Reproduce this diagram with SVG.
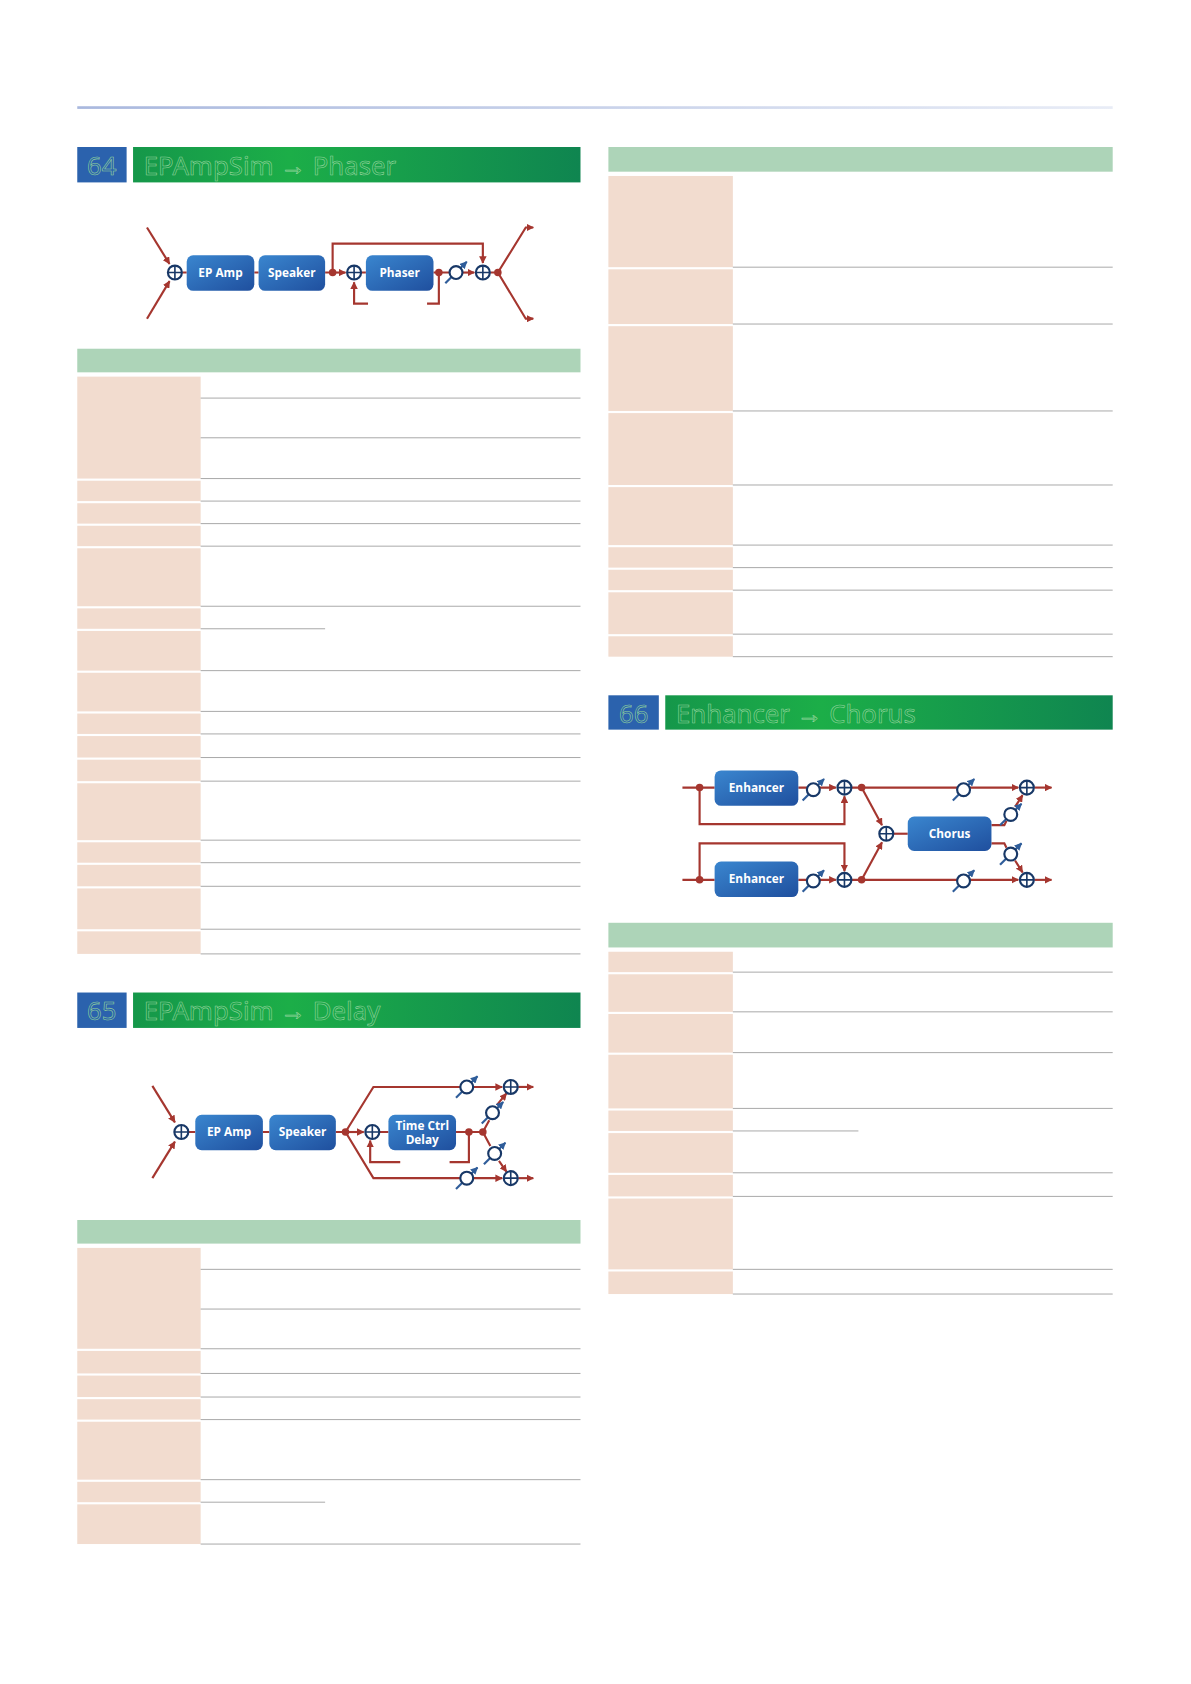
<svg xmlns="http://www.w3.org/2000/svg" width="1191" height="1684" viewBox="0 0 1191 1684">
<defs>
<linearGradient id="gb" x1="0" y1="0" x2="1" y2="1"><stop offset="0" stop-color="#3a86cf"/><stop offset="1" stop-color="#1f4f9e"/></linearGradient>
<linearGradient id="gg" x1="0" y1="0" x2="1" y2="0"><stop offset="0" stop-color="#15974a"/><stop offset="0.35" stop-color="#1cae48"/><stop offset="1" stop-color="#0f8550"/></linearGradient>
<linearGradient id="gl" x1="0" y1="0" x2="1" y2="0"><stop offset="0" stop-color="#a9b8de"/><stop offset="1" stop-color="#e8ecf6"/></linearGradient>
<marker id="ar" viewBox="0 0 10 10" refX="9" refY="5" markerWidth="7" markerHeight="7" markerUnits="userSpaceOnUse" orient="auto"><path d="M0,0L10,5L0,10z" fill="#a5362f"/></marker>
<marker id="ab" viewBox="0 0 10 10" refX="9" refY="5" markerWidth="7" markerHeight="7" markerUnits="userSpaceOnUse" orient="auto"><path d="M0,0L10,5L0,10z" fill="#2f5d9a"/></marker>
<symbol id="sum" overflow="visible"><circle r="6.5" fill="#fff" stroke="#183867" stroke-width="2"/><path d="M-6.5,0H6.5M0,-6.5V6.5" stroke="#183867" stroke-width="1.5"/></symbol>
<symbol id="knob" overflow="visible"><path d="M-10,10L10,-10" stroke="#2f5d9a" stroke-width="2" marker-end="url(#ab)"/><circle r="6" fill="#fff" stroke="#183867" stroke-width="2"/></symbol>
</defs>
<style>
.blk{fill:url(#gb)}
.bt{font-family:"Open Sans","Liberation Sans",sans-serif;font-weight:bold;font-size:11px;fill:#fff;text-anchor:middle}
.ln{stroke:#a5362f;stroke-width:2;fill:none}
.dot{fill:#a5362f}
.num{fill:#2b62ad}
.tt{font-family:"Noto Sans","Open Sans",sans-serif;font-size:24px;fill:none;stroke:#93d49c;stroke-width:0.55}
.hd{fill:#add4b8}
.pc{fill:#f2dccf}
.rl{stroke:#9a9a9a;stroke-width:0.8}
</style>
<g transform="scale(1.073)">
<rect x="72" y="99" width="965" height="2.5" fill="url(#gl)"/>
<g id="title64"><rect class="num" x="72" y="137" width="46" height="33"/><rect x="124" y="137" width="417" height="33" fill="url(#gg)"/><text class="tt" x="81" y="163">64</text><text class="tt" x="134" y="163">EPAmpSim → Phaser</text></g>
<g id="title65"><rect class="num" x="72" y="925" width="46" height="33"/><rect x="124" y="925" width="417" height="33" fill="url(#gg)"/><text class="tt" x="81" y="951">65</text><text class="tt" x="134" y="951">EPAmpSim → Delay</text></g>
<g id="title66"><rect class="num" x="567" y="648" width="47" height="32"/><rect x="620" y="648" width="417" height="32" fill="url(#gg)"/><text class="tt" x="577" y="674">66</text><text class="tt" x="630" y="674">Enhancer → Chorus</text></g>

<g id="connectors">
<path class="ln" d="M137,212L158,246" marker-end="url(#ar)"/><path class="ln" d="M137,297L158,262" marker-end="url(#ar)"/>
<path class="ln" d="M170,254H174M237,254H241M303,254H310"/><path class="ln" d="M310,254H322" marker-end="url(#ar)"/>
<path class="ln" d="M310,254V227H450V245" marker-end="url(#ar)"/>
<path class="ln" d="M337,254H341M404,254H419"/><path class="ln" d="M431,254H442" marker-end="url(#ar)"/>
<path class="ln" d="M409,254V283H398M343,283H330V263" marker-end="url(#ar)"/>
<path class="ln" d="M457,254H464L490,212H497" marker-end="url(#ar)"/><path class="ln" d="M464,254L490,297H497" marker-end="url(#ar)"/>
<circle class="dot" cx="310" cy="254" r="3.5"/><circle class="dot" cx="409" cy="254" r="3.5"/><circle class="dot" cx="464" cy="254" r="3.5"/>
<path class="ln" d="M142,1012L163,1046" marker-end="url(#ar)"/><path class="ln" d="M142,1098L163,1064" marker-end="url(#ar)"/>
<path class="ln" d="M176,1055H182M245,1055H251M313,1055H322"/><path class="ln" d="M322,1055H339" marker-end="url(#ar)"/>
<path class="ln" d="M322,1055L348,1013H429M441,1013H468" marker-end="url(#ar)"/>
<path class="ln" d="M322,1055L348,1098H429M441,1098H468" marker-end="url(#ar)"/>
<path class="ln" d="M354,1055H362M425,1055H450L456,1044M463,1030L472,1019" marker-end="url(#ar)"/>
<path class="ln" d="M450,1055L457,1068M465,1082L472,1092" marker-end="url(#ar)"/>
<path class="ln" d="M437,1055V1083H419M373,1083H345V1063" marker-end="url(#ar)"/>
<path class="ln" d="M483,1013H497" marker-end="url(#ar)"/><path class="ln" d="M483,1098H497" marker-end="url(#ar)"/>
<circle class="dot" cx="322" cy="1055" r="3.5"/><circle class="dot" cx="437" cy="1055" r="3.5"/><circle class="dot" cx="450" cy="1055" r="3.5"/>
<path class="ln" d="M636,734H666M744,734H752M764,734H779" marker-end="url(#ar)"/>
<path class="ln" d="M652,734V768H787V742" marker-end="url(#ar)"/>
<path class="ln" d="M636,820H666M744,820H752M764,820H779" marker-end="url(#ar)"/>
<path class="ln" d="M652,820V786H787V812" marker-end="url(#ar)"/>
<path class="ln" d="M794,734H892M904,734H949" marker-end="url(#ar)"/>
<path class="ln" d="M794,820H892M904,820H949" marker-end="url(#ar)"/>
<path class="ln" d="M803,734L822,769" marker-end="url(#ar)"/><path class="ln" d="M803,820L822,785" marker-end="url(#ar)"/>
<path class="ln" d="M833,777H846"/>
<path class="ln" d="M924,769H936L938,765M946,752L953,741" marker-end="url(#ar)"/>
<path class="ln" d="M924,786H936L938,790M946,802L953,813" marker-end="url(#ar)"/>
<path class="ln" d="M964,734H980" marker-end="url(#ar)"/><path class="ln" d="M964,820H980" marker-end="url(#ar)"/>
<circle class="dot" cx="652" cy="734" r="3.5"/><circle class="dot" cx="652" cy="820" r="3.5"/><circle class="dot" cx="803" cy="734" r="3.5"/><circle class="dot" cx="803" cy="820" r="3.5"/>
</g>

<g id="sums"><use href="#sum" x="163" y="254"/><use href="#sum" x="330" y="254"/><use href="#sum" x="450" y="254"/>
<use href="#sum" x="169" y="1055"/><use href="#sum" x="347" y="1055"/><use href="#sum" x="476" y="1013"/><use href="#sum" x="476" y="1098"/>
<use href="#sum" x="787" y="734"/><use href="#sum" x="787" y="820"/><use href="#sum" x="826" y="777"/><use href="#sum" x="957" y="734"/><use href="#sum" x="957" y="820"/></g>
<g id="levels"><use href="#knob" x="425" y="254"/><use href="#knob" x="435" y="1013"/><use href="#knob" x="435" y="1098"/><use href="#knob" x="459" y="1037"/><use href="#knob" x="461" y="1075"/>
<use href="#knob" x="758" y="736"/><use href="#knob" x="758" y="821"/><use href="#knob" x="898" y="736"/><use href="#knob" x="898" y="821"/><use href="#knob" x="942" y="759"/><use href="#knob" x="942" y="796"/></g>

<g id="epamp64"><rect class="blk" x="174" y="238" width="63" height="33" rx="6"/><text class="bt" x="205.5" y="258">EP Amp</text></g>
<g id="speaker64"><rect class="blk" x="241" y="238" width="62" height="33" rx="6"/><text class="bt" x="272" y="258">Speaker</text></g>
<g id="phaser64"><rect class="blk" x="341" y="238" width="63" height="33" rx="6"/><text class="bt" x="372.5" y="258">Phaser</text></g>
<g id="epamp65"><rect class="blk" x="182" y="1039" width="63" height="33" rx="6"/><text class="bt" x="213.5" y="1059">EP Amp</text></g>
<g id="speaker65"><rect class="blk" x="251" y="1039" width="62" height="33" rx="6"/><text class="bt" x="282" y="1059">Speaker</text></g>
<g id="delay65"><rect class="blk" x="362" y="1039" width="63" height="33" rx="6"/><text class="bt" x="393.5" y="1053">Time Ctrl</text><text class="bt" x="393.5" y="1066">Delay</text></g>
<g id="enh1"><rect class="blk" x="666" y="718" width="78" height="33" rx="6"/><text class="bt" x="705" y="738">Enhancer</text></g>
<g id="enh2"><rect class="blk" x="666" y="803" width="78" height="33" rx="6"/><text class="bt" x="705" y="823">Enhancer</text></g>
<g id="chorus"><rect class="blk" x="846" y="761" width="78" height="32" rx="6"/><text class="bt" x="885" y="781">Chorus</text></g>

<g id="table64">
<rect class="hd" x="72" y="325" width="469" height="22"/>
<rect class="pc" x="72" y="351" width="115" height="95"/><rect class="pc" x="72" y="448" width="115" height="19"/><rect class="pc" x="72" y="469" width="115" height="19"/><rect class="pc" x="72" y="490" width="115" height="19"/><rect class="pc" x="72" y="511" width="115" height="54"/><rect class="pc" x="72" y="567" width="115" height="19"/><rect class="pc" x="72" y="588" width="115" height="37"/><rect class="pc" x="72" y="627" width="115" height="36"/><rect class="pc" x="72" y="665" width="115" height="19"/><rect class="pc" x="72" y="686" width="115" height="20"/><rect class="pc" x="72" y="708" width="115" height="20"/><rect class="pc" x="72" y="730" width="115" height="53"/><rect class="pc" x="72" y="785" width="115" height="19"/><rect class="pc" x="72" y="806" width="115" height="20"/><rect class="pc" x="72" y="828" width="115" height="38"/><rect class="pc" x="72" y="868" width="115" height="21"/>
<path class="rl" d="M187,371H541M187,408H541M187,446H541M187,467H541M187,488H541M187,509H541M187,565H541M187,586H303M187,625H541M187,663H541M187,684H541M187,706H541M187,728H541M187,783H541M187,804H541M187,826H541M187,866H541M187,889H541"/>
</g>
<g id="table65">
<rect class="hd" x="72" y="1137" width="469" height="22"/>
<rect class="pc" x="72" y="1163" width="115" height="94"/><rect class="pc" x="72" y="1259" width="115" height="21"/><rect class="pc" x="72" y="1282" width="115" height="20"/><rect class="pc" x="72" y="1304" width="115" height="19"/><rect class="pc" x="72" y="1325" width="115" height="54"/><rect class="pc" x="72" y="1381" width="115" height="19"/><rect class="pc" x="72" y="1402" width="115" height="37"/>
<path class="rl" d="M187,1183H541M187,1220H541M187,1257H541M187,1280H541M187,1302H541M187,1323H541M187,1379H541M187,1400H303M187,1439H541"/>
</g>
<g id="tableR">
<rect class="hd" x="567" y="137" width="470" height="23"/>
<rect class="pc" x="567" y="164" width="116" height="85"/><rect class="pc" x="567" y="251" width="116" height="51"/><rect class="pc" x="567" y="304" width="116" height="79"/><rect class="pc" x="567" y="385" width="116" height="67"/><rect class="pc" x="567" y="454" width="116" height="54"/><rect class="pc" x="567" y="510" width="116" height="19"/><rect class="pc" x="567" y="531" width="116" height="19"/><rect class="pc" x="567" y="552" width="116" height="39"/><rect class="pc" x="567" y="593" width="116" height="19"/>
<path class="rl" d="M683,249H1037M683,302H1037M683,383H1037M683,452H1037M683,508H1037M683,529H1037M683,550H1037M683,591H1037M683,612H1037"/>
</g>
<g id="table66">
<rect class="hd" x="567" y="860" width="470" height="23"/>
<rect class="pc" x="567" y="887" width="116" height="19"/><rect class="pc" x="567" y="908" width="116" height="35"/><rect class="pc" x="567" y="945" width="116" height="36"/><rect class="pc" x="567" y="983" width="116" height="50"/><rect class="pc" x="567" y="1035" width="116" height="19"/><rect class="pc" x="567" y="1056" width="116" height="37"/><rect class="pc" x="567" y="1095" width="116" height="20"/><rect class="pc" x="567" y="1117" width="116" height="66"/><rect class="pc" x="567" y="1185" width="116" height="21"/>
<path class="rl" d="M683,906H1037M683,943H1037M683,981H1037M683,1033H1037M683,1054H800M683,1093H1037M683,1115H1037M683,1183H1037M683,1206H1037"/>
</g>
</g>
</svg>
